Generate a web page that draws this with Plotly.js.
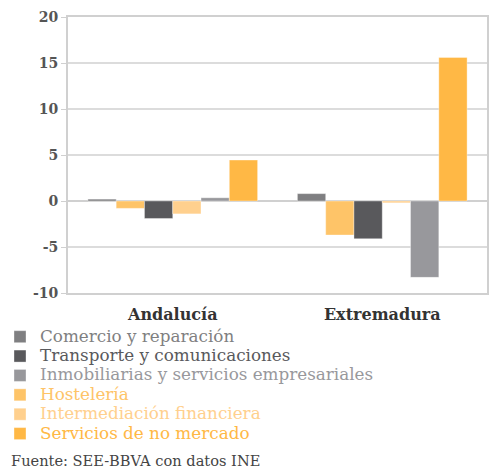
<!DOCTYPE html>
<html>
<head>
<meta charset="utf-8">
<script src="https://cdn.plot.ly/plotly-3.0.1.min.js"></script>
<style>html,body{margin:0;padding:0;background:#fff;}#chart{width:489px;height:468px;}</style>
</head>
<body>
<div id="chart"></div>
<script>
const categories = ["Andalucía", "Extremadura"];
const seriesNames = ["Comercio y reparación", "Hostelería", "Transporte y comunicaciones", "Intermediación financiera", "Inmobiliarias y servicios empresariales", "Servicios de no mercado"];
const comercio = [0.2, 0.8];
const hosteleria = [-0.8, -3.7];
const transporte = [-1.9, -4.1];
const intermediacion = [-1.4, -0.2];
const inmobiliarias = [0.35, -8.3];
const noMercado = [4.45, 15.6];
const seriesValues = [comercio, hosteleria, transporte, intermediacion, inmobiliarias, noMercado];
const colors = ["#7f7f81", "#fec468", "#59595c", "#ffd08e", "#98989c", "#ffb845"];
const legendRanks = [1, 4, 2, 5, 3, 6];
const yTickVals = [-10, -5, 0, 5, 10, 15, 20];
const yTickText = ["-10", "-5", "0", "5", "10", "15", "20"];
const sourceText = "Fuente: SEE-BBVA con datos INE";

const traces = seriesNames.map((n, i) => ({
  type: "bar",
  x: categories,
  y: seriesValues[i],
  name: '<span style="color:' + colors[i] + ';font-size:16.8px;font-family:DejaVu Serif">' + n + '</span>',
  legendrank: legendRanks[i],
  marker: {color: colors[i], line: {color: "rgba(255,255,255,0.35)", width: 1}},
  hoverinfo: "skip"
}));

const layout = {
  width: 489, height: 468,
  margin: {l: 68, r: 2, t: 17, b: 175, autoexpand: false},
  paper_bgcolor: "#fff", plot_bgcolor: "#fff",
  barmode: "group", bargap: 0.19, bargroupgap: 0,
  showlegend: true,
  font: {family: "DejaVu Serif", color: "#555"},
  xaxis: {
    showline: true, mirror: true, linecolor: "#d0d0d0", linewidth: 2,
    showgrid: false, ticks: "", tickangle: 0, ticklabelstandoff: 6,
    tickfont: {family: "DejaVu Serif", size: 16, color: "#333", weight: "bold"}
  },
  yaxis: {
    range: [-10, 20], tickmode: "array", tickvals: yTickVals, ticktext: yTickText,
    showline: true, mirror: true, linecolor: "#d0d0d0", linewidth: 2,
    showgrid: true, gridcolor: "#dcdcdc", gridwidth: 1.5,
    zeroline: true, zerolinecolor: "#d0d0d0", zerolinewidth: 1.5,
    ticks: "outside", ticklen: 5, tickcolor: "#d0d0d0",
    tickfont: {family: "DejaVu Serif", size: 14, color: "#555", weight: "bold"}
  },
  legend: {
    orientation: "v", xref: "container", yref: "container",
    x: 0, y: 1 - 322/468, xanchor: "left", yanchor: "top",
    font: {family: "DejaVu Serif", size: 12.6},
    traceorder: "normal", itemclick: false
  },
  annotations: [{
    text: sourceText, xref: "paper", yref: "paper",
    x: (9 - 68) / 419, y: (293 - 460) / 276, xanchor: "left", yanchor: "middle",
    showarrow: false, font: {family: "DejaVu Serif", size: 14.6, color: "#444"}
  }]
};

Plotly.newPlot("chart", traces, layout, {displayModeBar: false, staticPlot: true});
</script>
</body>
</html>
